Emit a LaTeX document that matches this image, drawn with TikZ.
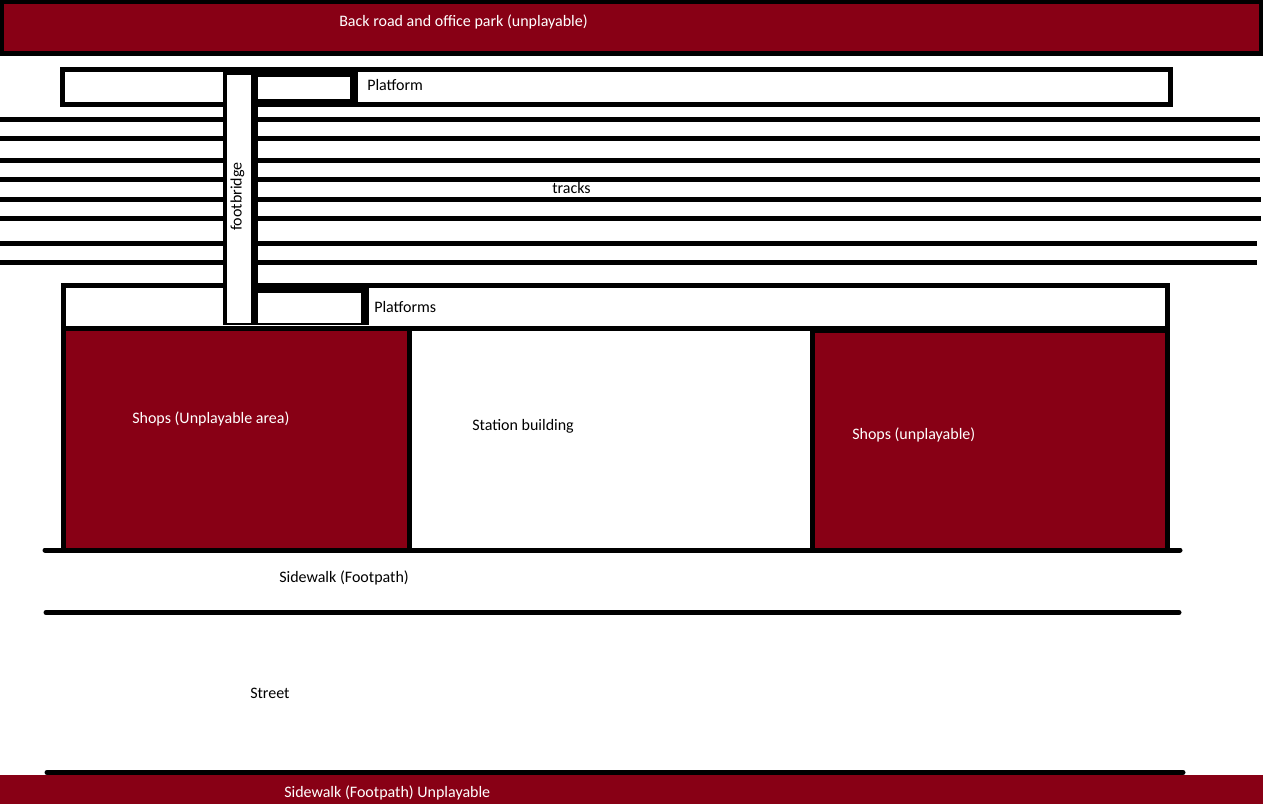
\documentclass[tikz,border=0pt]{standalone}
\usepackage{fontspec}
\setmainfont{Carlito}
\definecolor{darkred}{HTML}{880015}
\tikzset{
	wall/.style={line width=3.75pt},
	kerb/.style={line width=3.75pt,line cap=round},
	label/.style={anchor=base west,inner sep=0pt,font=\fontsize{12pt}{14pt}\selectfont},
	redlabel/.style={label,text=white}
}

\begin{document}
\begin{tikzpicture}[x=0.75pt,y=-0.75pt]
\useasboundingbox (0,0) rectangle (1263,804);
\draw[wall,fill=darkred] (1.5,1.5) rectangle (1261.5,53.5);
\draw[wall] (62.5,69.5) rectangle (1170.5,104.5);
\fill (251,72) rectangle (358,102);
\fill[white] (258,77) rectangle (350,99);
\foreach \y/\e in {119.5/1260,138.5/1260,160.5/1260,179.5/1260,199.5/1261,218.5/1261,243.5/1257,262.5/1257}
	\draw[wall] (0,\y) -- (\e,\y);
\draw[wall] (63.5,285.5) rectangle (1167.5,328.5);
\fill (251,283) rectangle (369,325);
\fill[white] (258,293) rectangle (361,323);
\fill (223,72) rectangle (258,325);
\fill[white] (227,75) rectangle (251,323);
\draw[wall,fill=darkred] (63.5,328.5) rectangle (409.5,550);
\draw[wall,fill=darkred] (812.5,330.5) rectangle (1167.5,550);
\draw[kerb] (45,550) -- (1180,550);
\draw[kerb] (46,612.5) -- (1179,612.5);
\draw[kerb] (47,772.5) -- (1183,772.5);
\fill[darkred] (0,775) rectangle (1263,804);
\node[redlabel] (backroad) at (339,26) {Back road and office park (unplayable)};
\node[label] (platformtop) at (367,90) {Platform};
\node[label] (tracks) at (552,193) {tracks};
\node[label,rotate=90] (footbridge) at (241.5,231) {footbridge};
\node[label] (platforms) at (374,312) {Platforms};
\node[redlabel] (shopsleft) at (132,423) {Shops (Unplayable area)};
\node[label] (station) at (472,430) {Station building};
\node[redlabel] (shopsright) at (852,439) {Shops (unplayable)};
\node[label] (sidewalk) at (279,582) {Sidewalk (Footpath)};
\node[label] (street) at (250,698) {Street};
\node[redlabel] (sidewalkbottom) at (284,797) {Sidewalk (Footpath) Unplayable};
\end{tikzpicture}
\end{document}
